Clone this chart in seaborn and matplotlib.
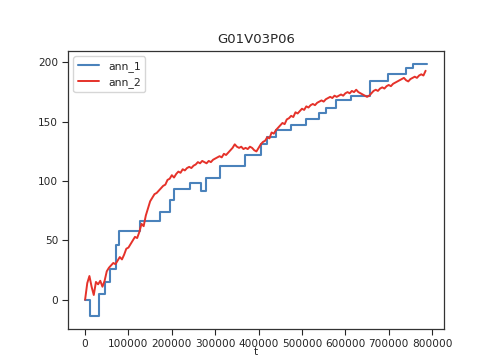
import numpy as np
import pandas as pd
import matplotlib
matplotlib.use("Agg")
import matplotlib.pyplot as plt
import seaborn as sns

title = "G01V03P06"
xlabel = "t"
series_names = ["ann_1", "ann_2"]

# ann_1: step series (time of each step, value after the step)
ann1_t = [0, 12000, 31000, 45000, 58000, 71000, 79000, 127000, 172000, 195000,
          205000, 243000, 267000, 279000, 310000, 368000, 405000, 420000, 440000,
          475000, 510000, 540000, 555000, 578000, 612000, 657000, 698000, 740000,
          755000, 788000]
ann1_v = [0, -14, 5, 15, 26, 46, 58, 66, 74, 84,
          93, 98, 92, 103, 113, 122, 131, 137, 143,
          147, 152, 157, 162, 168, 172, 184, 190, 195,
          199, 199]

# ann_2: noisy series sampled every 5000
ann2_t = list(range(0, 790000, 5000))
ann2_v = [0, 14, 20, 11, 4, 15, 13, 16, 11, 16,
          24, 27, 29, 31, 30, 33, 36, 34, 38, 43,
          44, 47, 50, 53, 52, 57, 64, 62, 71, 77,
          83, 86, 89, 90, 92, 94, 96, 97, 101, 102,
          105, 103, 106, 108, 107, 110, 109, 111, 112, 111,
          113, 114, 116, 115, 117, 116, 115, 117, 116, 118,
          119, 120, 121, 120, 123, 122, 124, 126, 128, 131,
          129, 128, 129, 127, 128, 127, 129, 128, 126, 125,
          128, 131, 133, 134, 137, 136, 141, 140, 143, 145,
          147, 149, 148, 152, 153, 155, 154, 158, 157, 159,
          161, 160, 163, 162, 164, 165, 164, 166, 167, 168,
          167, 169, 170, 171, 170, 172, 171, 172, 173, 172,
          174, 175, 174, 176, 175, 177, 175, 174, 173, 172,
          171, 172, 174, 176, 177, 176, 178, 179, 178, 180,
          181, 180, 182, 183, 184, 185, 186, 187, 185, 184,
          186, 187, 188, 187, 189, 190, 189, 193]

df1 = pd.DataFrame({"t": ann1_t, "value": ann1_v})
df2 = pd.DataFrame({"t": ann2_t[:len(ann2_v)], "value": ann2_v})

sns.set_style("ticks")
plt.rcParams["font.family"] = ["DejaVu Sans"]

fig = plt.figure(figsize=(4.86, 3.59), dpi=100)
ax = fig.add_axes([68 / 486, 30 / 359, 376 / 486, 278 / 359])

sns.lineplot(data=df1, x="t", y="value", ax=ax, color="#4a82bb", linewidth=1.5,
             drawstyle="steps-post", label=series_names[0], estimator=None)
sns.lineplot(data=df2, x="t", y="value", ax=ax, color="#e5322a", linewidth=1.4,
             label=series_names[1], estimator=None)

ax.set_title(title, fontsize=9.5)
ax.set_xlabel(xlabel, fontsize=7.5, labelpad=-1)
ax.set_ylabel("")
ax.set_yticks([0, 50, 100, 150, 200])
ax.set_xticks([0, 100000, 200000, 300000, 400000, 500000, 600000, 700000, 800000])
ax.ticklabel_format(style="plain", axis="x")
ax.tick_params(labelsize=7.6, direction="out", length=4, width=0.8, pad=3)
for s in ax.spines.values():
    s.set_color("#333333")
    s.set_linewidth(0.9)
ax.legend(loc="upper left", fontsize=7.8)

fig.savefig("out.png", dpi=100)
